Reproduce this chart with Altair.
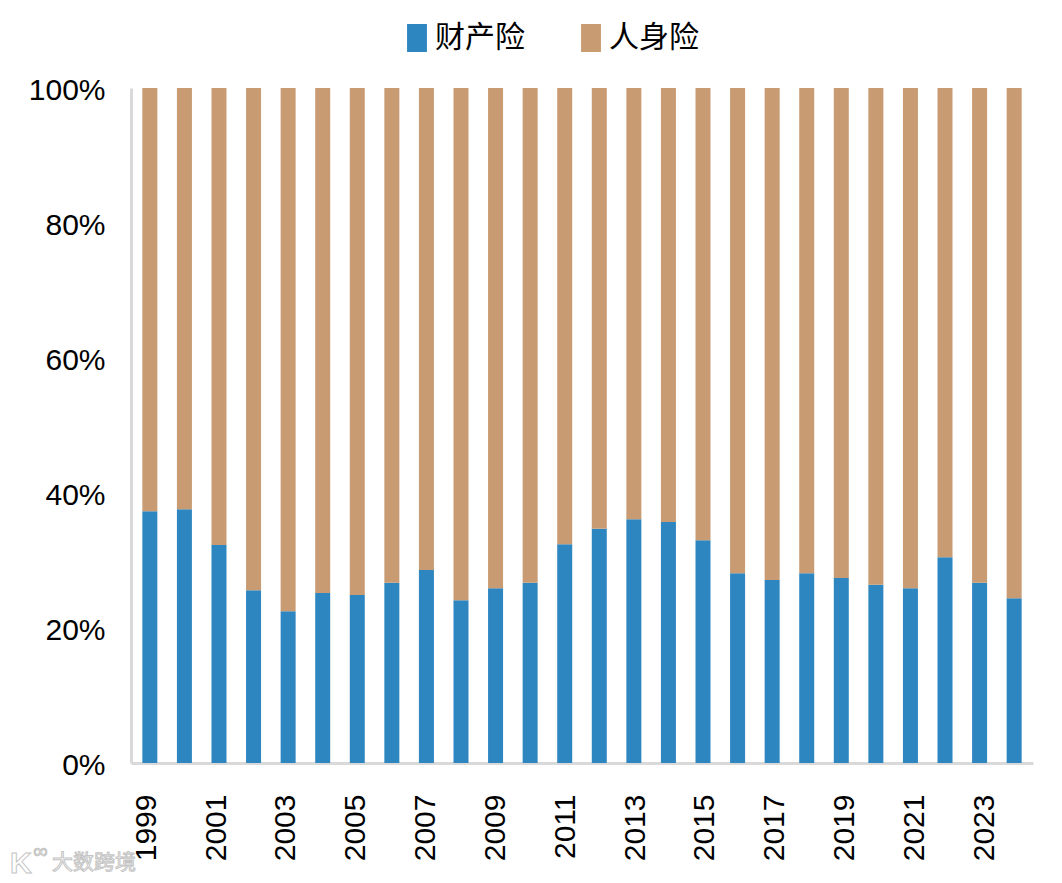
import altair as alt
import pandas as pd

years = [str(y) for y in range(1999, 2025)]
property_share = [37.3, 37.6, 32.3, 25.6, 22.5, 25.2, 24.9, 26.7, 28.6, 24.1, 25.9, 26.7, 32.4,
                  34.7, 36.1, 35.7, 33.0, 28.1, 27.1, 28.1, 27.4, 26.4, 25.9, 30.5, 26.7, 24.4]
series_names = ["财产险", "人身险"]
colors = ["#2E86C1", "#C89B73"]
tick_years = years[::2]

rows = []
for y, p in zip(years, property_share):
    rows.append({"year": y, "series": series_names[0], "value": p, "order": 0})
    rows.append({"year": y, "series": series_names[1], "value": 100 - p, "order": 1})
df = pd.DataFrame(rows)

LATIN = "Liberation Sans"
CJK = "Noto Sans CJK SC"

bars = alt.Chart(df).mark_bar(size=15).encode(
    x=alt.X("year:N", sort=years, title=None,
            scale=alt.Scale(paddingInner=0.57, paddingOuter=0.33),
            axis=alt.Axis(values=tick_years, labelAngle=-90, labelFontSize=30, labelColor="#000000",
                          labelFont=LATIN, labelPadding=31,
                          labelOffset=alt.expr("(toNumber(datum.value) - 2011) * 0.33 + 1"),
                          ticks=False, domainColor="#D9D9D9", domainWidth=3, grid=False,
                          labelBaseline="middle", labelAlign="right")),
    y=alt.Y("value:Q", stack="zero", title=None,
            scale=alt.Scale(domain=[0, 100]),
            axis=alt.Axis(values=[0, 20, 40, 60, 80, 100], labelExpr="datum.value + '%'",
                          labelFontSize=30, labelColor="#000000", labelFont=LATIN, labelPadding=26,
                          labelOffset=2, ticks=False, domainColor="#D9D9D9", domainWidth=3, grid=False)),
    color=alt.Color("series:N", sort=series_names,
                    scale=alt.Scale(domain=series_names, range=colors),
                    legend=alt.Legend(title=None, orient="none", direction="horizontal", legendX=271,
                                      legendY=-65, labelFontSize=30, labelFont=CJK, labelColor="#000000",
                                      symbolType="M-0.71,-1H0.71V1H-0.71Z", symbolSize=784,
                                      symbolStrokeWidth=0, columnPadding=51, labelOffset=3)),
    order=alt.Order("order:Q"),
)

mark_text = dict(color="#FFFFFF", stroke="#C4C4C4", strokeWidth=1, align="left", baseline="middle")

watermark = alt.Chart(pd.DataFrame({"t": ["大数跨境"]})).mark_text(
    font=CJK, fontSize=21, **mark_text
).encode(text="t:N", x=alt.value(-79), y=alt.value(775))

logo_k = alt.Chart(pd.DataFrame({"t": ["K"]})).mark_text(
    font=LATIN, fontSize=30, fontWeight="bold", **mark_text
).encode(text="t:N", x=alt.value(-121), y=alt.value(776))

logo_loop = alt.Chart(pd.DataFrame({"t": ["∞"]})).mark_text(
    font="DejaVu Sans", fontSize=20, **mark_text
).encode(text="t:N", x=alt.value(-99), y=alt.value(764))

chart = (bars + watermark + logo_k + logo_loop).properties(
    width=902, height=675,
    autosize=alt.AutoSizeParams(type="none"),
    padding={"left": 123, "top": 80, "right": 20, "bottom": 116},
    background="#FFFFFF",
).configure_view(stroke=None)

chart.save("out.html", embed_options={"renderer": "svg", "actions": False})
